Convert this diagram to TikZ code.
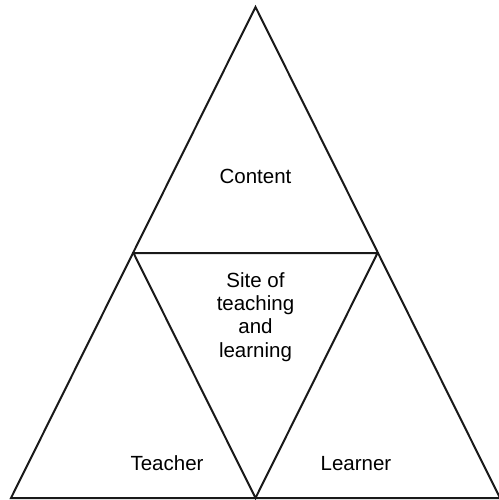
\documentclass[tikz,border=0pt]{standalone}
\usepackage{fontspec}
\setmainfont{Liberation Sans}
\begin{document}
\begin{tikzpicture}[x=1pt,y=-1pt,
  edge/.style={line width=2pt,line join=miter,black!90},
  lbl/.style={font=\fontsize{20.5}{23.3}\selectfont,inner sep=0pt,align=center}]
\useasboundingbox (0,0) rectangle (498,500);
\coordinate (A) at (255.5,7);
\coordinate (BL) at (11,498);
\coordinate (BR) at (500,498);
\coordinate (ML) at (133.5,253);
\coordinate (MR) at (377.5,253);
\coordinate (BM) at (255.5,498);
\draw[edge] (A) -- (BL) -- (BR) -- cycle;
\draw[edge] (ML) -- (MR) -- (BM) -- cycle;
\node[lbl,anchor=base] (content) at (255.5,183) {Content};
\node[lbl] (site) at (255.5,317) {Site of\\teaching\\and\\learning};
\node[lbl,anchor=base] (teacher) at (167,470) {Teacher};
\node[lbl,anchor=base] (learner) at (356,470) {Learner};
\end{tikzpicture}
\end{document}
